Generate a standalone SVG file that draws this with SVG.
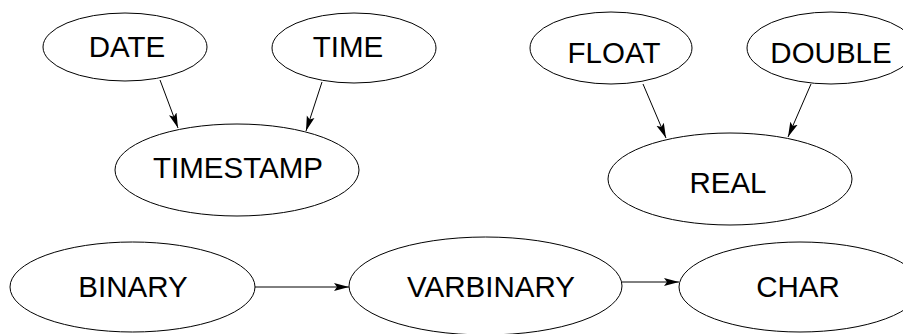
<svg xmlns="http://www.w3.org/2000/svg" width="903" height="334" viewBox="0 0 903 334">
<style>
.n ellipse{fill:#fff;stroke:#000;stroke-width:1}
.n text{font-family:"Liberation Sans",Arial,sans-serif;font-size:29.5px;text-anchor:middle;fill:#000}
.e line{stroke:#000;stroke-width:1;fill:none;marker-end:url(#ah)}
</style>
<defs>
<marker id="ah" markerUnits="userSpaceOnUse" markerWidth="16" markerHeight="10" viewBox="0 0 16 10" refX="15" refY="5" orient="auto">
<path d="M0,1 L15,5 L0,9 L3,5 z" fill="#000"/>
</marker>
</defs>
<rect width="903" height="334" fill="#fff"/>
<g id="edges" class="e">
<line x1="160" y1="80" x2="178" y2="128"/>
<line x1="322" y1="82" x2="306" y2="131"/>
<line x1="643" y1="84" x2="666" y2="138"/>
<line x1="811" y1="84" x2="788" y2="137"/>
<line x1="255" y1="287" x2="349" y2="287"/>
<line x1="622" y1="282" x2="679" y2="282"/>
</g>
<g id="DATE" class="n"><ellipse cx="125" cy="47" rx="82" ry="34"/><text x="127" y="57">DATE</text></g>
<g id="TIME" class="n"><ellipse cx="354" cy="48" rx="82" ry="35"/><text x="348" y="57">TIME</text></g>
<g id="TIMESTAMP" class="n"><ellipse cx="237" cy="170" rx="122" ry="46"/><text x="238" y="178">TIMESTAMP</text></g>
<g id="FLOAT" class="n"><ellipse cx="611" cy="48" rx="81" ry="36"/><text x="614" y="63">FLOAT</text></g>
<g id="DOUBLE" class="n"><ellipse cx="831" cy="48" rx="84" ry="36"/><text x="831" y="63">DOUBLE</text></g>
<g id="REAL" class="n"><ellipse cx="730" cy="179" rx="122" ry="46"/><text x="728" y="193">REAL</text></g>
<g id="BINARY" class="n"><ellipse cx="132.5" cy="287" rx="122.5" ry="45"/><text x="133" y="297">BINARY</text></g>
<g id="VARBINARY" class="n"><ellipse cx="485.5" cy="286" rx="136.5" ry="49"/><text x="491" y="297">VARBINARY</text></g>
<g id="CHAR" class="n"><ellipse cx="800" cy="287" rx="121" ry="45"/><text x="798" y="297">CHAR</text></g>
</svg>
